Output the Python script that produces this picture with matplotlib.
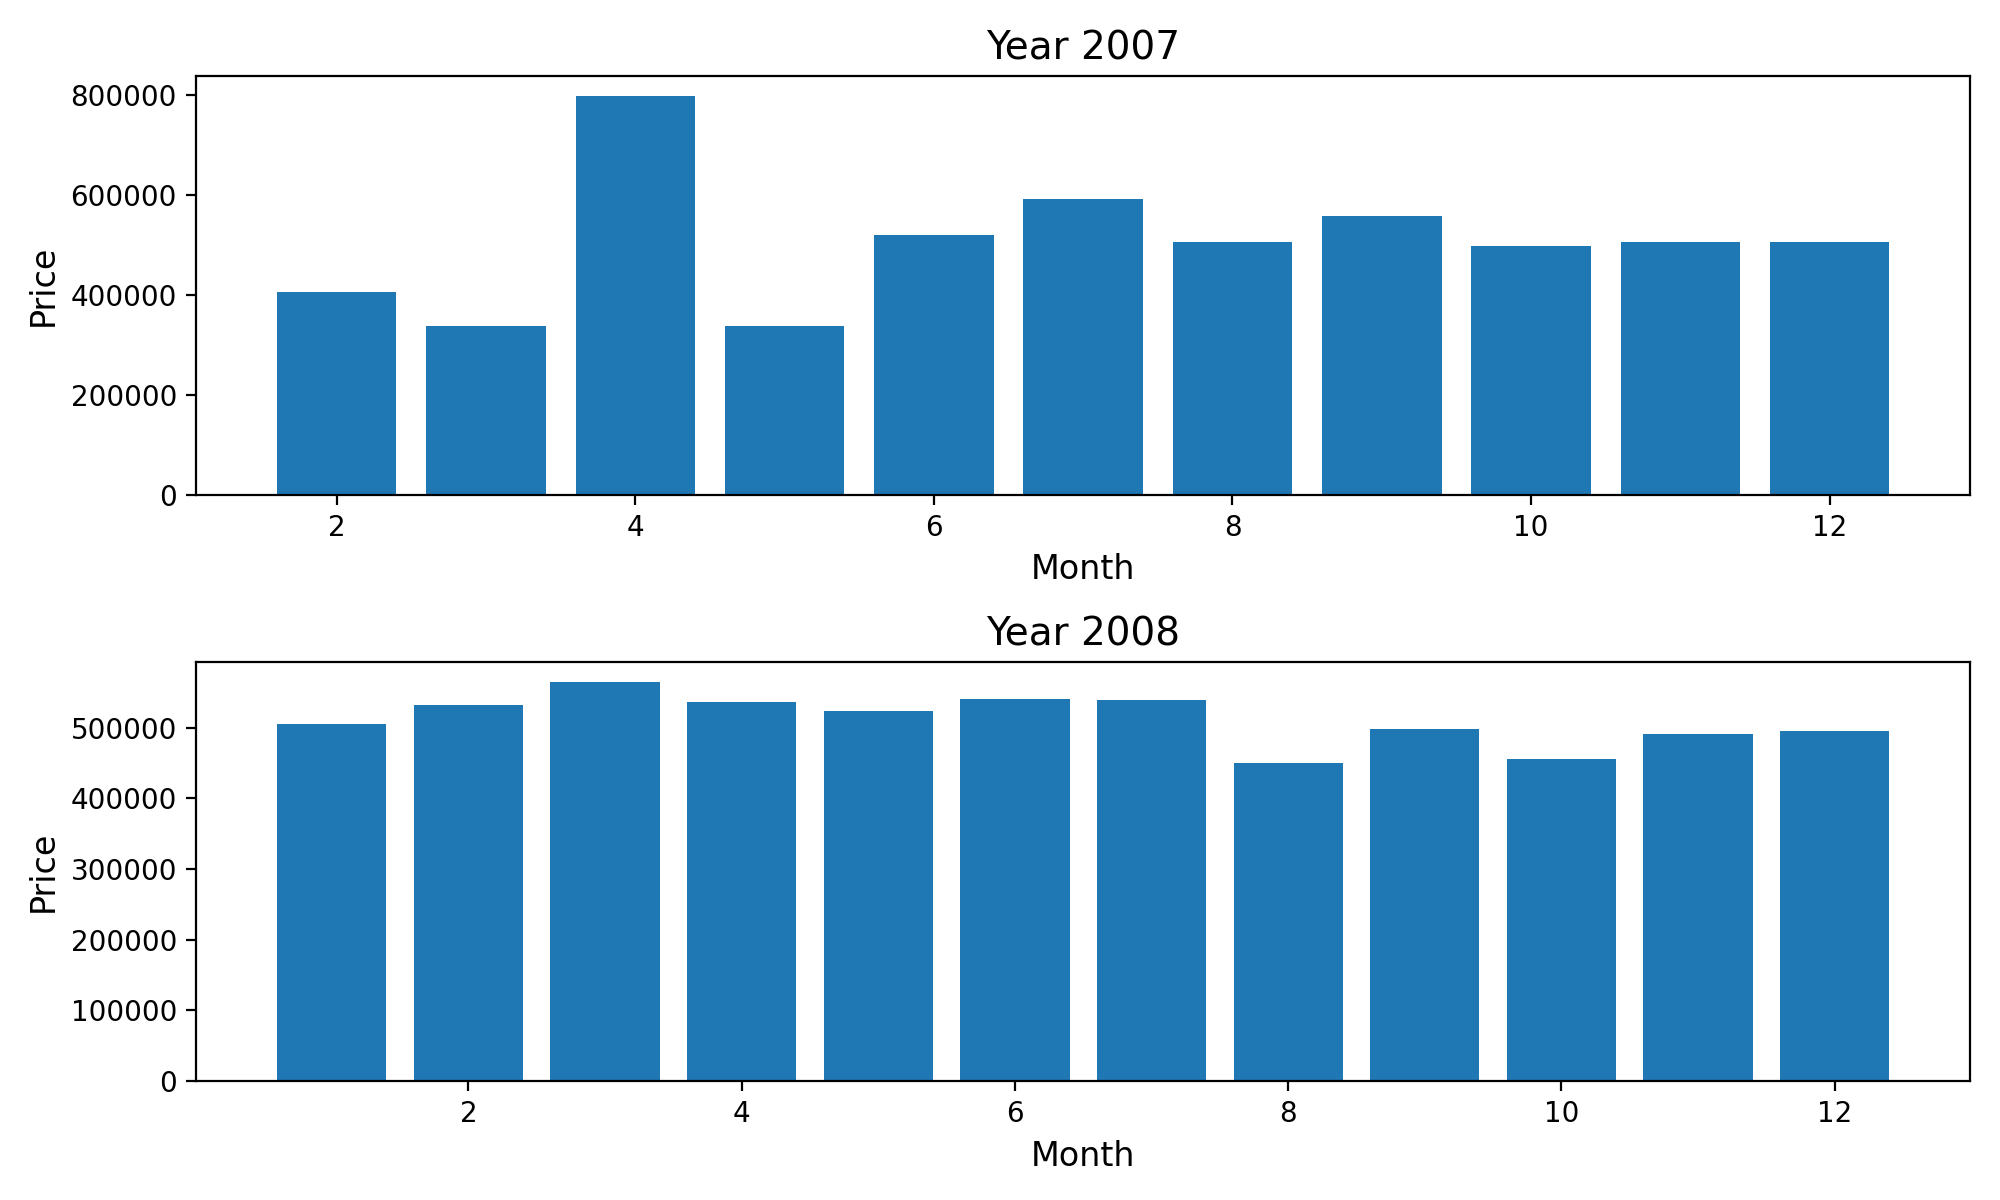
import matplotlib
matplotlib.use("Agg")
import matplotlib.pyplot as plt

months_2007 = [2, 3, 4, 5, 6, 7, 8, 9, 10, 11, 12]
prices_2007 = [407000, 339000, 798000, 339000, 519500, 591500, 505500, 557500, 497500, 505500, 505500]

months_2008 = [1, 2, 3, 4, 5, 6, 7, 8, 9, 10, 11, 12]
prices_2008 = [504700, 531600, 564200, 535900, 523100, 540100, 538700, 449500, 497600, 455100, 490600, 494800]

fig, axes = plt.subplots(2, 1, figsize=(10, 6), dpi=200)

for ax, months, prices, year in [(axes[0], months_2007, prices_2007, 2007),
                                  (axes[1], months_2008, prices_2008, 2008)]:
    ax.bar(months, prices)
    ax.set_title(f"Year {year}", fontsize=14)
    ax.set_xlabel("Month", fontsize=12)
    ax.set_ylabel("Price", fontsize=12)

fig.subplots_adjust(left=0.0982, right=0.985, top=0.9364, bottom=0.0992, hspace=0.4)
fig.savefig("out.png")
